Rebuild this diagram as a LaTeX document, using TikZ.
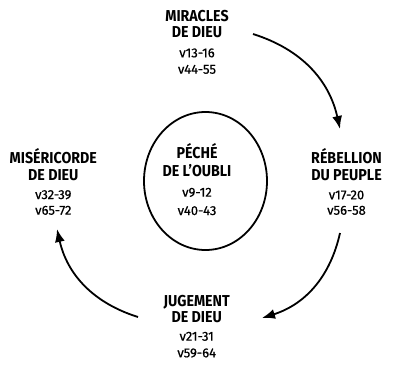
\documentclass[tikz,border=0pt]{standalone}
\usepackage{fontspec}
\setmainfont{Fira Sans}[FakeStretch=0.9]
\newfontfamily\versefont{Fira Sans}[FakeBold=0.6]
\usetikzlibrary{arrows.meta}
\tikzset{
  headline/.style={anchor=base, inner sep=0pt, font=\bfseries\fontsize{15.8}{17}\selectfont},
  verseline/.style={anchor=base, inner sep=0pt, font=\versefont\fontsize{13}{14}\selectfont},
  cyclearrow/.style={line width=1.8pt, -{Latex[length=13pt,width=10pt]}, bend left=30},
}
\begin{document}
\begin{tikzpicture}[x=1pt,y=-1pt]
\useasboundingbox (0,0) rectangle (396,380);
% top
\node[headline] (m1) at (197,21) {MIRACLES};
\node[headline] (m2) at (197,37.5) {DE DIEU};
\node[verseline] (m3) at (197,57.3) {v13-16};
\node[verseline] (m4) at (197,73.7) {v44-55};
% right
\node[headline] (r1) at (346.5,163.2) {RÉBELLION};
\node[headline] (r2) at (346.5,180.2) {DU PEUPLE};
\node[verseline] (r3) at (346.5,199.3) {v17-20};
\node[verseline] (r4) at (346.5,214.7) {v56-58};
% left
\node[headline] (l1) at (53.3,163.2) {MISÉRICORDE};
\node[headline] (l2) at (53.3,180.2) {DE DIEU};
\node[verseline] (l3) at (53.3,199) {v32-39};
\node[verseline] (l4) at (53.3,214.7) {v65-72};
% bottom
\node[headline] (j1) at (196.7,306.2) {JUGEMENT};
\node[headline] (j2) at (196.7,322.8) {DE DIEU};
\node[verseline] (j3) at (196.7,340.7) {v21-31};
\node[verseline] (j4) at (196.7,357.3) {v59-64};
% centre
\draw[line width=1.8pt] (205.5,181) ellipse [x radius=61.5, y radius=69];
\node[headline] (p1) at (197,158.8) {PÉCHÉ};
\node[headline] (p2) at (197,176) {DE L’OUBLI};
\node[verseline] (p3) at (197,196.7) {v9-12};
\node[verseline] (p4) at (197,215) {v40-43};
% arrows
\coordinate (a1s) at (253,34);
\coordinate (a1e) at (340,129);
\coordinate (a2s) at (340,233);
\coordinate (a2e) at (262,318);
\coordinate (a3s) at (138,317);
\coordinate (a3e) at (57,229);
\draw[cyclearrow] (a1s) to (a1e);
\draw[cyclearrow] (a2s) to (a2e);
\draw[cyclearrow] (a3s) to (a3e);
\end{tikzpicture}
\end{document}
